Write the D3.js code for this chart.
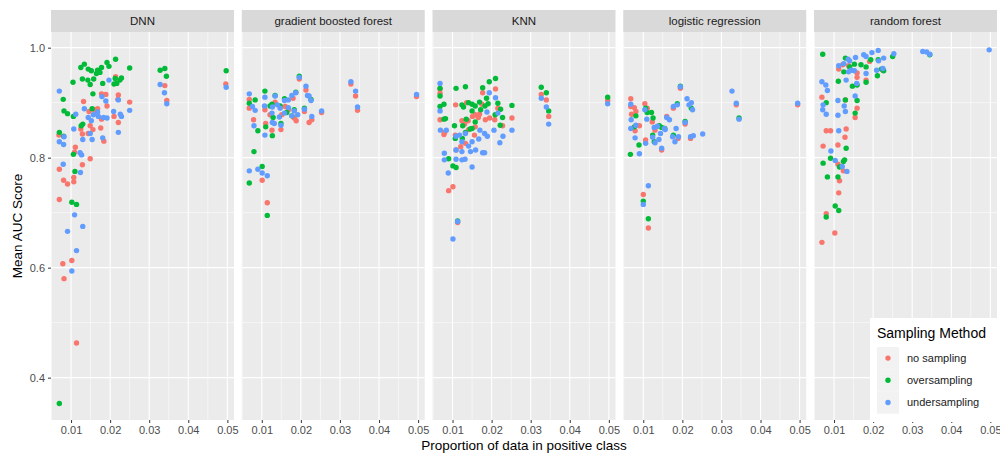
<!DOCTYPE html>
<html>
<head>
<meta charset="utf-8">
<script src="https://cdn.jsdelivr.net/npm/d3@7"></script>
<style>
  body { margin: 0; background: #fff; }
  text { font-family: "Liberation Sans", Arial, sans-serif; }
</style>
</head>
<body>
<div id="chart"></div>
<script>
// AUC vs proportion of positive class, faceted by model

const models = ["DNN", "gradient boosted forest", "KNN", "logistic regression", "random forest"];
const methods = ["no sampling", "oversampling", "undersampling"];
const methodColors = ["#F8766D", "#00BA38", "#619CFF"];

const xTicks = [0.01, 0.02, 0.03, 0.04, 0.05];
const yTicks = [0.4, 0.6, 0.8, 1.0];

// [proportion, mean AUC]
const dnnNoSampling = [[0.0214,0.947],[0.0178,0.916],[0.0189,0.915],[0.0221,0.914],[0.0220,0.906],[0.0132,0.902],[0.0250,0.901],[0.0340,0.931],[0.0345,0.904],[0.0496,0.934],[0.0168,0.889],[0.0192,0.894],[0.0146,0.884],[0.0210,0.875],[0.0221,0.864],[0.0178,0.870],[0.0149,0.858],[0.0156,0.851],[0.0176,0.854],[0.0125,0.852],[0.0129,0.843],[0.0144,0.844],[0.0069,0.841],[0.0184,0.830],[0.0111,0.819],[0.0109,0.810],[0.0149,0.798],[0.0129,0.787],[0.0070,0.779],[0.0081,0.759],[0.0091,0.752],[0.0107,0.756],[0.0107,0.764],[0.0070,0.724],[0.0102,0.613],[0.0079,0.607],[0.0082,0.580],[0.0114,0.463],[0.0160,0.887],[0.0165,0.880]];
const dnnOversampling = [[0.0134,0.970],[0.0125,0.964],[0.0144,0.961],[0.0152,0.958],[0.0168,0.959],[0.0178,0.964],[0.0192,0.973],[0.0214,0.979],[0.0197,0.966],[0.0165,0.953],[0.0174,0.955],[0.0129,0.943],[0.0143,0.941],[0.0149,0.933],[0.0158,0.943],[0.0105,0.937],[0.0181,0.935],[0.0213,0.944],[0.0229,0.945],[0.0217,0.935],[0.0225,0.941],[0.0210,0.934],[0.0250,0.963],[0.0328,0.959],[0.0340,0.962],[0.0344,0.948],[0.0497,0.958],[0.0156,0.916],[0.0080,0.906],[0.0082,0.885],[0.0091,0.880],[0.0106,0.875],[0.0154,0.889],[0.0130,0.861],[0.0126,0.858],[0.0070,0.846],[0.0081,0.839],[0.0106,0.806],[0.0110,0.775],[0.0102,0.719],[0.0114,0.715],[0.0070,0.353]];
const dnnUndersampling = [[0.0197,0.941],[0.0070,0.921],[0.0328,0.933],[0.0339,0.918],[0.0345,0.898],[0.0497,0.928],[0.0189,0.903],[0.0250,0.886],[0.0134,0.889],[0.0112,0.879],[0.0144,0.873],[0.0157,0.878],[0.0168,0.883],[0.0170,0.875],[0.0183,0.873],[0.0192,0.872],[0.0209,0.884],[0.0229,0.875],[0.0226,0.879],[0.0152,0.867],[0.0107,0.852],[0.0149,0.844],[0.0154,0.833],[0.0130,0.833],[0.0181,0.836],[0.0221,0.846],[0.0082,0.838],[0.0070,0.829],[0.0081,0.824],[0.0123,0.809],[0.0127,0.805],[0.0080,0.788],[0.0124,0.773],[0.0221,0.905],[0.0179,0.911],[0.0109,0.696],[0.0130,0.675],[0.0091,0.666],[0.0114,0.631],[0.0102,0.594]];

const gbfNoSampling = [[0.0196,0.943],[0.0328,0.934],[0.0340,0.912],[0.0345,0.886],[0.0496,0.911],[0.0068,0.906],[0.0213,0.923],[0.0068,0.890],[0.0079,0.869],[0.0110,0.862],[0.0126,0.850],[0.0149,0.851],[0.0134,0.901],[0.0180,0.908],[0.0188,0.867],[0.0183,0.872],[0.0221,0.864],[0.0228,0.869],[0.0253,0.882],[0.0209,0.884],[0.0168,0.887],[0.0121,0.878],[0.0151,0.878],[0.0101,0.759],[0.0114,0.718],[0.0108,0.887],[0.0160,0.893]];
const gbfOversampling = [[0.0196,0.948],[0.0108,0.921],[0.0134,0.913],[0.0158,0.907],[0.0187,0.919],[0.0226,0.906],[0.0083,0.905],[0.0068,0.899],[0.0126,0.897],[0.0147,0.894],[0.0183,0.887],[0.0209,0.890],[0.0129,0.873],[0.0149,0.862],[0.0110,0.856],[0.0090,0.849],[0.0127,0.840],[0.0080,0.811],[0.0101,0.784],[0.0068,0.754],[0.0114,0.695],[0.0164,0.882],[0.0177,0.876],[0.0121,0.894]];
const gbfUndersampling = [[0.0196,0.946],[0.0328,0.938],[0.0340,0.921],[0.0345,0.892],[0.0496,0.915],[0.0068,0.916],[0.0213,0.930],[0.0187,0.918],[0.0177,0.913],[0.0217,0.913],[0.0221,0.912],[0.0108,0.910],[0.0134,0.912],[0.0158,0.904],[0.0168,0.905],[0.0226,0.904],[0.0076,0.893],[0.0083,0.886],[0.0107,0.894],[0.0127,0.892],[0.0140,0.896],[0.0147,0.890],[0.0168,0.891],[0.0183,0.885],[0.0209,0.888],[0.0253,0.885],[0.0126,0.881],[0.0145,0.874],[0.0158,0.881],[0.0177,0.876],[0.0192,0.878],[0.0228,0.875],[0.0127,0.864],[0.0132,0.862],[0.0149,0.859],[0.0080,0.858],[0.0108,0.841],[0.0068,0.776],[0.0090,0.779],[0.0101,0.772],[0.0114,0.767]];

const knnNoSampling = [[0.0068,0.925],[0.0068,0.917],[0.0177,0.918],[0.0210,0.925],[0.0327,0.915],[0.0340,0.905],[0.0346,0.875],[0.0497,0.904],[0.0108,0.896],[0.0136,0.900],[0.0175,0.897],[0.0068,0.869],[0.0078,0.842],[0.0124,0.867],[0.0140,0.867],[0.0151,0.875],[0.0158,0.878],[0.0169,0.879],[0.0166,0.873],[0.0184,0.869],[0.0195,0.872],[0.0208,0.869],[0.0216,0.890],[0.0228,0.858],[0.0252,0.872],[0.0131,0.861],[0.0158,0.856],[0.0156,0.841],[0.0107,0.841],[0.0121,0.820],[0.0133,0.826],[0.0141,0.851],[0.0090,0.740],[0.0101,0.747],[0.0113,0.682],[0.0109,0.814],[0.0080,0.846]];
const knnOversampling = [[0.0068,0.926],[0.0068,0.912],[0.0109,0.926],[0.0133,0.929],[0.0177,0.927],[0.0194,0.938],[0.0210,0.944],[0.0327,0.928],[0.0340,0.918],[0.0346,0.885],[0.0497,0.910],[0.0068,0.893],[0.0078,0.897],[0.0078,0.870],[0.0082,0.871],[0.0124,0.896],[0.0128,0.892],[0.0141,0.900],[0.0150,0.897],[0.0158,0.894],[0.0169,0.901],[0.0183,0.894],[0.0187,0.908],[0.0191,0.898],[0.0216,0.899],[0.0223,0.888],[0.0252,0.895],[0.0228,0.873],[0.0209,0.878],[0.0150,0.885],[0.0172,0.887],[0.0135,0.870],[0.0158,0.865],[0.0126,0.858],[0.0145,0.852],[0.0150,0.853],[0.0105,0.858],[0.0133,0.846],[0.0107,0.835],[0.0125,0.835],[0.0222,0.859],[0.0090,0.798],[0.0101,0.785],[0.0109,0.782],[0.0113,0.685]];
const knnUndersampling = [[0.0068,0.935],[0.0068,0.885],[0.0194,0.918],[0.0210,0.909],[0.0327,0.908],[0.0340,0.892],[0.0346,0.861],[0.0497,0.898],[0.0069,0.850],[0.0084,0.850],[0.0216,0.881],[0.0188,0.883],[0.0170,0.850],[0.0182,0.844],[0.0189,0.839],[0.0206,0.850],[0.0229,0.839],[0.0252,0.850],[0.0221,0.827],[0.0167,0.834],[0.0109,0.839],[0.0150,0.829],[0.0133,0.844],[0.0141,0.821],[0.0124,0.829],[0.0109,0.814],[0.0124,0.811],[0.0146,0.811],[0.0159,0.814],[0.0177,0.809],[0.0182,0.809],[0.0079,0.808],[0.0079,0.796],[0.0109,0.797],[0.0124,0.796],[0.0132,0.797],[0.0150,0.783],[0.0089,0.772],[0.0113,0.684],[0.0101,0.652],[0.0118,0.841]];

const lrNoSampling = [[0.0068,0.907],[0.0068,0.893],[0.0077,0.891],[0.0081,0.884],[0.0070,0.879],[0.0090,0.858],[0.0079,0.849],[0.0104,0.898],[0.0110,0.890],[0.0106,0.832],[0.0123,0.865],[0.0177,0.890],[0.0207,0.861],[0.0195,0.926],[0.0338,0.896],[0.0495,0.896],[0.0147,0.814],[0.0189,0.835],[0.0221,0.835],[0.0160,0.875],[0.0130,0.850],[0.0100,0.733],[0.0113,0.672]];
const lrOversampling = [[0.0195,0.930],[0.0106,0.890],[0.0110,0.882],[0.0121,0.882],[0.0081,0.876],[0.0125,0.872],[0.0077,0.856],[0.0124,0.841],[0.0141,0.858],[0.0147,0.855],[0.0155,0.853],[0.0128,0.829],[0.0089,0.823],[0.0067,0.806],[0.0223,0.890],[0.0187,0.898],[0.0345,0.872],[0.0207,0.866],[0.0177,0.841],[0.0100,0.721],[0.0113,0.689]];
const lrUndersampling = [[0.0195,0.929],[0.0327,0.921],[0.0338,0.899],[0.0345,0.870],[0.0495,0.899],[0.0068,0.897],[0.0104,0.887],[0.0109,0.870],[0.0069,0.869],[0.0068,0.853],[0.0081,0.859],[0.0079,0.836],[0.0090,0.807],[0.0106,0.826],[0.0124,0.837],[0.0130,0.827],[0.0140,0.833],[0.0147,0.817],[0.0128,0.855],[0.0136,0.857],[0.0144,0.844],[0.0154,0.853],[0.0160,0.873],[0.0167,0.869],[0.0177,0.893],[0.0187,0.896],[0.0184,0.853],[0.0175,0.838],[0.0181,0.829],[0.0190,0.838],[0.0207,0.864],[0.0212,0.907],[0.0217,0.896],[0.0223,0.900],[0.0226,0.887],[0.0221,0.838],[0.0228,0.840],[0.0252,0.843],[0.0156,0.851],[0.0113,0.749],[0.0100,0.715]];

const rfNoSampling = [[0.0112,0.961],[0.0137,0.967],[0.0122,0.969],[0.0159,0.946],[0.0182,0.941],[0.0225,0.959],[0.0069,0.910],[0.0129,0.905],[0.0159,0.890],[0.0154,0.873],[0.0080,0.849],[0.0091,0.849],[0.0131,0.852],[0.0128,0.837],[0.0072,0.821],[0.0110,0.823],[0.0110,0.788],[0.0124,0.776],[0.0114,0.758],[0.0112,0.736],[0.0080,0.698],[0.0102,0.663],[0.0069,0.646],[0.0159,0.954],[0.0191,0.975]];
const rfOversampling = [[0.0071,0.988],[0.0129,0.981],[0.0152,0.970],[0.0169,0.969],[0.0194,0.978],[0.0182,0.965],[0.0250,0.984],[0.0221,0.961],[0.0227,0.958],[0.0125,0.956],[0.0140,0.965],[0.0211,0.949],[0.0111,0.939],[0.0147,0.930],[0.0182,0.937],[0.0159,0.932],[0.0080,0.900],[0.0129,0.905],[0.0159,0.904],[0.0154,0.881],[0.0131,0.817],[0.0072,0.790],[0.0091,0.799],[0.0114,0.783],[0.0124,0.793],[0.0127,0.796],[0.0083,0.765],[0.0110,0.765],[0.0103,0.712],[0.0112,0.704],[0.0080,0.692],[0.0213,0.978],[0.0345,0.987]];
const rfUndersampling = [[0.0213,0.995],[0.0253,0.989],[0.0327,0.993],[0.0337,0.992],[0.0345,0.988],[0.0497,0.996],[0.0197,0.991],[0.0176,0.987],[0.0155,0.982],[0.0136,0.979],[0.0140,0.976],[0.0112,0.967],[0.0125,0.971],[0.0214,0.976],[0.0227,0.981],[0.0182,0.984],[0.0144,0.959],[0.0152,0.958],[0.0137,0.956],[0.0182,0.953],[0.0209,0.959],[0.0225,0.962],[0.0131,0.941],[0.0158,0.935],[0.0069,0.938],[0.0079,0.932],[0.0083,0.922],[0.0154,0.912],[0.0110,0.904],[0.0126,0.894],[0.0129,0.884],[0.0072,0.896],[0.0071,0.887],[0.0080,0.879],[0.0110,0.877],[0.0112,0.849],[0.0092,0.812],[0.0103,0.795],[0.0121,0.784],[0.0133,0.775]];

const seriesByModel = [
  [dnnNoSampling, dnnOversampling, dnnUndersampling],
  [gbfNoSampling, gbfOversampling, gbfUndersampling],
  [knnNoSampling, knnOversampling, knnUndersampling],
  [lrNoSampling, lrOversampling, lrUndersampling],
  [rfNoSampling, rfOversampling, rfUndersampling]
];

const width = 1000, height = 453;
const panelTop = 32, panelBottom = 420, stripTop = 10;

const svg = d3.select("#chart").append("svg")
    .attr("width", width)
    .attr("height", height);

// facets
const facet = d3.scaleBand()
    .domain(models)
    .range([51, 997])
    .paddingInner(0.0406);

const x = d3.scaleLinear()
    .domain([0.00487, 0.0517])
    .range([0, facet.bandwidth()]);

const y = d3.scaleLinear()
    .domain([0.323, 1.0285])
    .range([panelBottom, panelTop]);

const xMinor = [0.005, 0.015, 0.025, 0.035, 0.045];
const yMinor = [0.5, 0.7, 0.9];

models.forEach(function(m, i) {
  const g = svg.append("g")
      .attr("transform", `translate(${facet(m)},0)`);

  g.append("rect")
      .attr("x", 0).attr("y", panelTop)
      .attr("width", facet.bandwidth())
      .attr("height", panelBottom - panelTop)
      .attr("fill", "#EBEBEB");

  // grid
  g.selectAll(".ymin").data(yMinor).join("line")
      .attr("x1", 0).attr("x2", facet.bandwidth())
      .attr("y1", d => y(d)).attr("y2", d => y(d))
      .attr("stroke", "#fff").attr("stroke-width", 0.55);
  g.selectAll(".xmin").data(xMinor.filter(d => x(d) >= 0)).join("line")
      .attr("x1", d => x(d)).attr("x2", d => x(d))
      .attr("y1", panelTop).attr("y2", panelBottom)
      .attr("stroke", "#fff").attr("stroke-width", 0.55);
  g.selectAll(".ymaj").data(yTicks).join("line")
      .attr("x1", 0).attr("x2", facet.bandwidth())
      .attr("y1", d => y(d)).attr("y2", d => y(d))
      .attr("stroke", "#fff").attr("stroke-width", 1.1);
  g.selectAll(".xmaj").data(xTicks).join("line")
      .attr("x1", d => x(d)).attr("x2", d => x(d))
      .attr("y1", panelTop).attr("y2", panelBottom)
      .attr("stroke", "#fff").attr("stroke-width", 1.1);

  // strip
  g.append("rect")
      .attr("x", 0).attr("y", stripTop)
      .attr("width", facet.bandwidth())
      .attr("height", panelTop - stripTop)
      .attr("fill", "#D9D9D9");
  g.append("text")
      .attr("x", facet.bandwidth() / 2)
      .attr("y", (stripTop + panelTop) / 2 + 4)
      .attr("text-anchor", "middle")
      .style("font-size", "11.5px")
      .style("fill", "#1A1A1A")
      .text(m);

  // points
  seriesByModel[i].forEach(function(pts, k) {
    g.selectAll(".p" + k).data(pts).join("circle")
        .attr("cx", d => x(d[0]))
        .attr("cy", d => y(d[1]))
        .attr("r", 2.7)
        .attr("fill", methodColors[k]);
  });

  // x axis
  const ax = g.append("g")
      .attr("transform", `translate(0,${panelBottom})`)
      .call(d3.axisBottom(x).tickValues(xTicks).tickSize(3).tickPadding(3).tickFormat(d3.format(".2f")));
  ax.select(".domain").remove();
  ax.selectAll("line").attr("stroke", "#333");
  ax.selectAll("text")
      .style("font-size", "11px")
      .style("fill", "#4D4D4D")
      .style("font-family", "Liberation Sans, Arial, sans-serif");
});

// y axis
const ay = svg.append("g")
    .attr("transform", `translate(${facet(models[0])},0)`)
    .call(d3.axisLeft(y).tickValues(yTicks).tickSize(3).tickPadding(3).tickFormat(d3.format(".1f")));
ay.select(".domain").remove();
ay.selectAll("line").attr("stroke", "#333");
ay.selectAll("text")
    .style("font-size", "11px")
    .style("fill", "#4D4D4D")
    .style("font-family", "Liberation Sans, Arial, sans-serif");

// axis titles
svg.append("text")
    .attr("x", 524)
    .attr("y", 450)
    .attr("text-anchor", "middle")
    .style("font-size", "13.5px")
    .style("fill", "#000")
    .text("Proportion of data in positive class");

svg.append("text")
    .attr("transform", `translate(22,${(panelTop + panelBottom) / 2}) rotate(-90)`)
    .attr("text-anchor", "middle")
    .style("font-size", "13.5px")
    .style("fill", "#000")
    .text("Mean AUC Score");

// legend
const legend = svg.append("g").attr("transform", "translate(870,318)");
legend.append("rect")
    .attr("width", 130).attr("height", 104)
    .attr("fill", "#fff");
legend.append("text")
    .attr("x", 7).attr("y", 20)
    .style("font-size", "14px")
    .style("fill", "#000")
    .text("Sampling Method");
methods.forEach(function(m, k) {
  const ky = 29 + k * 22.2;
  legend.append("rect")
      .attr("x", 7).attr("y", ky)
      .attr("width", 22).attr("height", 22.2)
      .attr("fill", "#F2F2F2");
  legend.append("circle")
      .attr("cx", 18).attr("cy", ky + 11.1)
      .attr("r", 2.7)
      .attr("fill", methodColors[k]);
  legend.append("text")
      .attr("x", 37).attr("y", ky + 15)
      .style("font-size", "11px")
      .style("fill", "#1A1A1A")
      .text(m);
});
</script>
</body>
</html>
